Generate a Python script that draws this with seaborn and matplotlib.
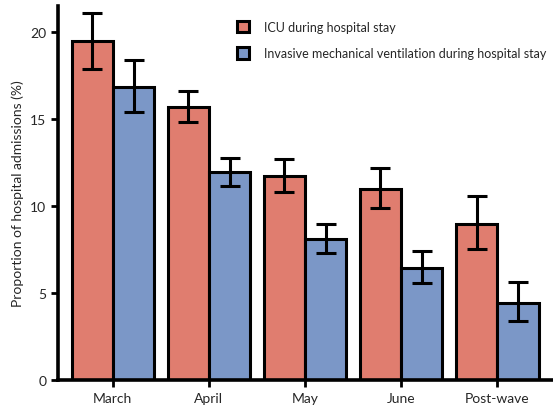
import numpy as np
import pandas as pd
import matplotlib
matplotlib.use("Agg")
import matplotlib.pyplot as plt
import seaborn as sns

# Data
periods = ["March", "April", "May", "June", "Post-wave"]
series = ["ICU during hospital stay",
          "Invasive mechanical ventilation during hospital stay"]
icu = [19.5, 15.7, 11.7, 11.0, 8.95]
icu_low = [17.9, 14.8, 10.8, 9.9, 7.55]
icu_high = [21.1, 16.6, 12.7, 12.2, 10.55]
imv = [16.85, 11.95, 8.1, 6.45, 4.4]
imv_low = [15.4, 11.15, 7.3, 5.55, 3.4]
imv_high = [18.4, 12.75, 8.95, 7.4, 5.6]

colors = ["#E07D6F", "#7B97C7"]

df = pd.DataFrame({
    "period": periods * 2,
    "series": [series[0]] * 5 + [series[1]] * 5,
    "value": icu + imv,
    "low": icu_low + imv_low,
    "high": icu_high + imv_high,
})

sns.set_style("ticks")
plt.rcParams["font.family"] = ["Lato", "DejaVu Sans"]

fig = plt.figure(figsize=(5.53, 4.10), dpi=100)
ax = fig.add_axes([0.105, 0.071, 0.895, 0.912])

sns.barplot(data=df, x="period", y="value", hue="series", order=periods,
            hue_order=series, palette=colors, width=0.86, errorbar=None,
            edgecolor="black", linewidth=2.2, saturation=1, ax=ax)

# error bars centered on each bar drawn by seaborn
for cont, s in zip(ax.containers, series):
    sub = df[df["series"] == s].set_index("period").loc[periods]
    xs = [p.get_x() + p.get_width() / 2 for p in cont.patches]
    yerr = np.array([sub["value"] - sub["low"], sub["high"] - sub["value"]])
    ax.errorbar(xs, sub["value"], yerr=yerr, fmt="none", ecolor="black",
                elinewidth=2.2, capsize=7, capthick=2.2, zorder=5)

ax.set_xlim(-0.57, 4.58)
ax.set_ylim(0, 21.5)
ax.set_yticks([0, 5, 10, 15, 20])
ax.set_xlabel("")
ax.set_ylabel("Proportion of hospital admissions (%)", fontsize=10)
ax.tick_params(axis="both", labelsize=10, width=2, length=5, color="black")
sns.despine(ax=ax)
for side in ["left", "bottom"]:
    ax.spines[side].set_linewidth(2.6)
    ax.spines[side].set_color("black")

leg = ax.legend(loc="upper right", bbox_to_anchor=(1.01, 0.99), frameon=False,
                fontsize=9, handlelength=1.0, handleheight=1.0,
                handletextpad=1.2, labelspacing=1.15)

fig.savefig("out.png", dpi=100)
